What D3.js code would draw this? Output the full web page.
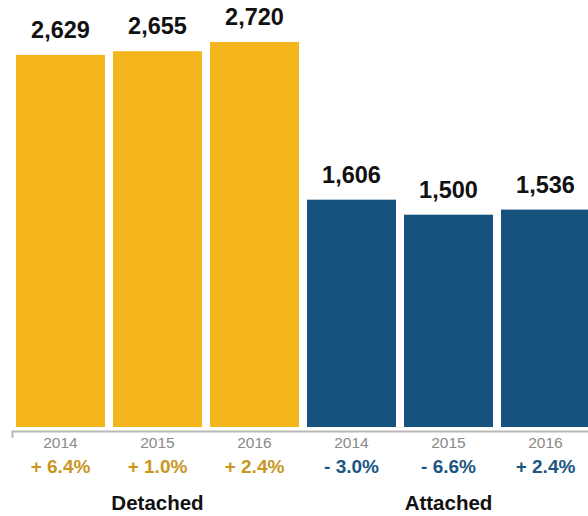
<!DOCTYPE html>
<html><head><meta charset="utf-8">
<script src="https://cdn.jsdelivr.net/npm/d3@7"></script>
<style>
html,body{margin:0;padding:0;background:#fff;}
svg{display:block;font-family:"Liberation Sans",Arial,Helvetica,sans-serif;}
</style></head>
<body>
<svg id="chart" width="588" height="516"></svg>
<script>
const groups = ["Detached", "Attached"];
const years = ["2014", "2015", "2016"];
const values = [2629, 2655, 2720, 1606, 1500, 1536];
const changes = ["+ 6.4%", "+ 1.0%", "+ 2.4%", "- 3.0%", "- 6.6%", "+ 2.4%"];
const barGroups = ["Detached", "Detached", "Detached", "Attached", "Attached", "Attached"];
const barYears = ["2014", "2015", "2016", "2014", "2015", "2016"];

const barColor = {Detached: "#F5B51C", Attached: "#16527E"};
const pctColor = {Detached: "#C9971F", Attached: "#1B5683"};

const data = values.map((v, i) => ({key: i, group: barGroups[i], year: barYears[i], value: v, change: changes[i]}));

const svg = d3.select("#chart");
const baseY = 427;
const x = d3.scaleBand().domain(data.map(d => d.key)).range([12, 594]).paddingInner(8/97).paddingOuter(4/97);
const y = d3.scaleLinear().domain([0, 2720]).range([baseY, 42]);

svg.selectAll("rect.bar").data(data).join("rect")
  .attr("class", "bar")
  .attr("x", d => x(d.key))
  .attr("width", x.bandwidth())
  .attr("y", d => y(d.value))
  .attr("height", d => y(0) - y(d.value))
  .attr("fill", d => barColor[d.group]);

svg.selectAll("text.val").data(data).join("text")
  .attr("class", "val")
  .attr("x", d => x(d.key) + x.bandwidth() / 2)
  .attr("y", d => y(d.value) - 17)
  .attr("text-anchor", "middle")
  .attr("font-size", 23.5)
  .attr("font-weight", "bold")
  .attr("fill", "#111")
  .text(d => d3.format(",")(d.value));

const axis = d3.axisBottom(x).tickSizeInner(0).tickSizeOuter(7).tickFormat("");
const ax = svg.append("g").attr("transform", `translate(0,${baseY + 4})`).call(axis);
ax.select(".domain").attr("stroke", "#b9b9b9").attr("stroke-width", 2).attr("fill", "none");
ax.selectAll(".tick").remove();

svg.selectAll("text.year").data(data).join("text")
  .attr("class", "year")
  .attr("x", d => x(d.key) + x.bandwidth() / 2)
  .attr("y", 447.5)
  .attr("text-anchor", "middle")
  .attr("font-size", 15.5)
  .attr("fill", "#8a8a8a")
  .text(d => d.year);

svg.selectAll("text.pct").data(data).join("text")
  .attr("class", "pct")
  .attr("x", d => x(d.key) + x.bandwidth() / 2)
  .attr("y", 473)
  .attr("text-anchor", "middle")
  .attr("font-size", 19)
  .attr("font-weight", "bold")
  .attr("fill", d => pctColor[d.group])
  .text(d => d.change);

svg.selectAll("text.grp").data(groups).join("text")
  .attr("class", "grp")
  .attr("x", g => {
    const ks = data.filter(d => d.group === g).map(d => d.key);
    return (x(ks[0]) + x(ks[ks.length - 1]) + x.bandwidth()) / 2;
  })
  .attr("y", 509.5)
  .attr("text-anchor", "middle")
  .attr("font-size", 20.5)
  .attr("font-weight", "bold")
  .attr("fill", "#111")
  .text(g => g);
</script>
</body></html>
